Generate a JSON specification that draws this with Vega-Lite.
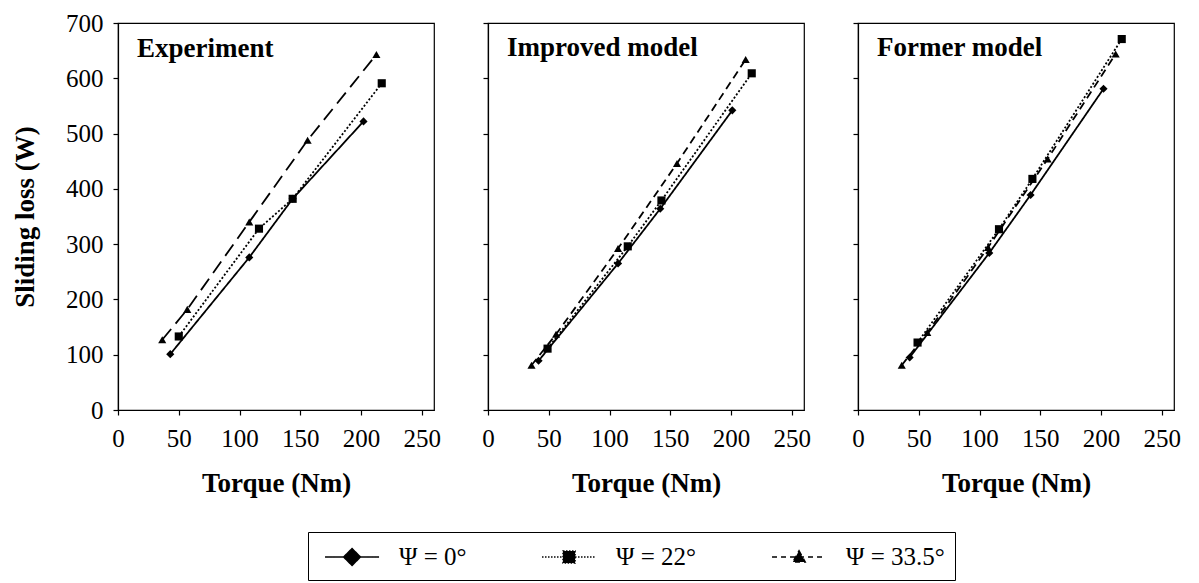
{
  "$schema": "https://vega.github.io/schema/vega-lite/v6.json",
  "padding": {"left": 10, "top": 10, "right": 5, "bottom": 0},
  "datasets": {
    "d": [
      {"panel": "Experiment", "series": "Ψ = 0°", "torque": 43, "loss": 101},
      {"panel": "Experiment", "series": "Ψ = 0°", "torque": 108, "loss": 276},
      {"panel": "Experiment", "series": "Ψ = 0°", "torque": 143.7, "loss": 382},
      {"panel": "Experiment", "series": "Ψ = 0°", "torque": 202, "loss": 522},
      {"panel": "Experiment", "series": "Ψ = 22°", "torque": 50, "loss": 133},
      {"panel": "Experiment", "series": "Ψ = 22°", "torque": 116, "loss": 328},
      {"panel": "Experiment", "series": "Ψ = 22°", "torque": 143.7, "loss": 382},
      {"panel": "Experiment", "series": "Ψ = 22°", "torque": 217, "loss": 591},
      {"panel": "Experiment", "series": "Ψ = 33.5°", "torque": 36.4, "loss": 127},
      {"panel": "Experiment", "series": "Ψ = 33.5°", "torque": 57, "loss": 182},
      {"panel": "Experiment", "series": "Ψ = 33.5°", "torque": 108, "loss": 340},
      {"panel": "Experiment", "series": "Ψ = 33.5°", "torque": 156, "loss": 488},
      {"panel": "Experiment", "series": "Ψ = 33.5°", "torque": 212.6, "loss": 643},
      {"panel": "Improved", "series": "Ψ = 0°", "torque": 41.6, "loss": 89},
      {"panel": "Improved", "series": "Ψ = 0°", "torque": 107, "loss": 265},
      {"panel": "Improved", "series": "Ψ = 0°", "torque": 141.7, "loss": 364},
      {"panel": "Improved", "series": "Ψ = 0°", "torque": 201, "loss": 542},
      {"panel": "Improved", "series": "Ψ = 22°", "torque": 49, "loss": 111},
      {"panel": "Improved", "series": "Ψ = 22°", "torque": 115, "loss": 296},
      {"panel": "Improved", "series": "Ψ = 22°", "torque": 142.7, "loss": 379},
      {"panel": "Improved", "series": "Ψ = 22°", "torque": 217, "loss": 609},
      {"panel": "Improved", "series": "Ψ = 33.5°", "torque": 35.8, "loss": 81},
      {"panel": "Improved", "series": "Ψ = 33.5°", "torque": 56, "loss": 137},
      {"panel": "Improved", "series": "Ψ = 33.5°", "torque": 107, "loss": 292},
      {"panel": "Improved", "series": "Ψ = 33.5°", "torque": 155.5, "loss": 446},
      {"panel": "Improved", "series": "Ψ = 33.5°", "torque": 212, "loss": 634},
      {"panel": "Former", "series": "Ψ = 0°", "torque": 42.5, "loss": 95},
      {"panel": "Former", "series": "Ψ = 0°", "torque": 108, "loss": 284},
      {"panel": "Former", "series": "Ψ = 0°", "torque": 142, "loss": 389},
      {"panel": "Former", "series": "Ψ = 0°", "torque": 202, "loss": 581},
      {"panel": "Former", "series": "Ψ = 22°", "torque": 49, "loss": 122},
      {"panel": "Former", "series": "Ψ = 22°", "torque": 116, "loss": 327},
      {"panel": "Former", "series": "Ψ = 22°", "torque": 143.5, "loss": 418},
      {"panel": "Former", "series": "Ψ = 22°", "torque": 217, "loss": 671},
      {"panel": "Former", "series": "Ψ = 33.5°", "torque": 36, "loss": 81},
      {"panel": "Former", "series": "Ψ = 33.5°", "torque": 57, "loss": 140},
      {"panel": "Former", "series": "Ψ = 33.5°", "torque": 107, "loss": 294},
      {"panel": "Former", "series": "Ψ = 33.5°", "torque": 156, "loss": 454},
      {"panel": "Former", "series": "Ψ = 33.5°", "torque": 212, "loss": 644}
    ]
  },
  "data": {"name": "d"},
  "spacing": 54,
  "bounds": "flush",
  "hconcat": [
    {
      "width": 316,
      "height": 387,
      "title": {"text": "Experiment", "anchor": "start", "frame": "group", "orient": "top", "offset": 0, "dy": 52, "dx": 19, "fontSize": 27, "fontWeight": "bold", "font": "Liberation Serif", "color": "black"},
      "transform": [{"filter": "datum.panel === 'Experiment'"}],
      "resolve": {"scale": {"shape": "independent", "strokeDash": "independent"}},
      "layer": [
        {
          "mark": {"type": "line", "color": "black", "strokeWidth": 1.8},
          "encoding": {
            "x": {"field": "torque", "type": "quantitative", "scale": {"domain": [0, 250]}, "axis": {"values": [0, 50, 100, 150, 200, 250], "title": "Torque (Nm)"}},
            "y": {"field": "loss", "type": "quantitative", "scale": {"domain": [0, 700]}, "axis": {"values": [0, 100, 200, 300, 400, 500, 600, 700], "title": "Sliding loss (W)"}},
            "strokeDash": {"field": "series", "type": "nominal", "scale": {"domain": ["Ψ = 0°", "Ψ = 22°", "Ψ = 33.5°"], "range": [[1, 0], [2, 2], [14, 7]]}, "legend": null}
          }
        },
        {
          "mark": {"type": "point", "filled": true, "color": "black", "opacity": 1, "size": 66},
          "encoding": {
            "x": {"field": "torque", "type": "quantitative"},
            "y": {"field": "loss", "type": "quantitative"},
            "shape": {"field": "series", "type": "nominal", "scale": {"domain": ["Ψ = 0°", "Ψ = 22°", "Ψ = 33.5°"], "range": ["diamond", "square", "triangle-up"]}, "legend": null}
          }
        },
        {
          "mark": {"type": "point", "filled": false, "fill": "black", "stroke": "black", "strokeWidth": 1.5, "opacity": 0},
          "encoding": {
            "x": {"field": "torque", "type": "quantitative"},
            "y": {"field": "loss", "type": "quantitative"},
            "shape": {
              "field": "series", "type": "nominal",
              "scale": {"domain": ["Ψ = 0°", "Ψ = 22°", "Ψ = 33.5°"], "range": ["M-0.57,0H3.29M1.36,-0.6L1.96,0L1.36,0.6L0.76,0Z", "M-0.57,0H3.29M0.93,-0.43H1.79V0.43H0.93Z", "M-0.57,0H3.29M1.36,-0.45L1.8,0.35H0.92Z"]},
              "legend": {
                "title": null, "orient": "none", "legendX": 190, "legendY": 509, "direction": "horizontal",
                "strokeColor": "black", "padding": 10, "symbolSize": 784, "labelOffset": 51, "columnPadding": 68,
                "symbolOpacity": 1, "symbolStrokeWidth": 1.5,
                "labelFont": "Liberation Serif", "labelFontSize": 25, "labelColor": "black", "labelLimit": 300
              }
            },
            "strokeDash": {
              "field": "series", "type": "nominal",
              "scale": {"domain": ["Ψ = 0°", "Ψ = 22°", "Ψ = 33.5°"], "range": [[1, 0], [1.5, 1.5], [5, 4]]},
              "legend": {
                "title": null, "orient": "none", "legendX": 190, "legendY": 509, "direction": "horizontal",
                "strokeColor": "black", "padding": 10, "symbolSize": 784, "labelOffset": 51, "columnPadding": 68,
                "symbolOpacity": 1, "symbolStrokeWidth": 1.5,
                "labelFont": "Liberation Serif", "labelFontSize": 25, "labelColor": "black", "labelLimit": 300
              }
            }
          }
        }
      ]
    },
    {
      "width": 316,
      "height": 387,
      "title": {"text": "Improved model", "anchor": "start", "frame": "group", "orient": "top", "offset": 0, "dy": 40, "dx": 19, "fontSize": 27, "fontWeight": "bold", "font": "Liberation Serif", "color": "black"},
      "transform": [{"filter": "datum.panel === 'Improved'"}],
      "layer": [
        {
          "mark": {"type": "line", "color": "black", "strokeWidth": 1.8},
          "encoding": {
            "x": {"field": "torque", "type": "quantitative", "scale": {"domain": [0, 250]}, "axis": {"values": [0, 50, 100, 150, 200, 250], "title": "Torque (Nm)"}},
            "y": {"field": "loss", "type": "quantitative", "scale": {"domain": [0, 700]}, "axis": {"values": [0, 100, 200, 300, 400, 500, 600, 700], "labels": false, "title": null}},
            "strokeDash": {"field": "series", "type": "nominal", "scale": {"domain": ["Ψ = 0°", "Ψ = 22°", "Ψ = 33.5°"], "range": [[1, 0], [2, 2], [8, 5]]}, "legend": null}
          }
        },
        {
          "mark": {"type": "point", "filled": true, "color": "black", "opacity": 1, "size": 66},
          "encoding": {
            "x": {"field": "torque", "type": "quantitative"},
            "y": {"field": "loss", "type": "quantitative"},
            "shape": {"field": "series", "type": "nominal", "scale": {"domain": ["Ψ = 0°", "Ψ = 22°", "Ψ = 33.5°"], "range": ["diamond", "square", "triangle-up"]}, "legend": null}
          }
        }
      ]
    },
    {
      "width": 316,
      "height": 387,
      "title": {"text": "Former model", "anchor": "start", "frame": "group", "orient": "top", "offset": 0, "dy": 40, "dx": 19, "fontSize": 27, "fontWeight": "bold", "font": "Liberation Serif", "color": "black"},
      "transform": [{"filter": "datum.panel === 'Former'"}],
      "layer": [
        {
          "mark": {"type": "line", "color": "black", "strokeWidth": 1.8},
          "encoding": {
            "x": {"field": "torque", "type": "quantitative", "scale": {"domain": [0, 250]}, "axis": {"values": [0, 50, 100, 150, 200, 250], "title": "Torque (Nm)"}},
            "y": {"field": "loss", "type": "quantitative", "scale": {"domain": [0, 700]}, "axis": {"values": [0, 100, 200, 300, 400, 500, 600, 700], "labels": false, "title": null}},
            "strokeDash": {"field": "series", "type": "nominal", "scale": {"domain": ["Ψ = 0°", "Ψ = 22°", "Ψ = 33.5°"], "range": [[1, 0], [2, 2], [5, 3]]}, "legend": null}
          }
        },
        {
          "mark": {"type": "point", "filled": true, "color": "black", "opacity": 1, "size": 66},
          "encoding": {
            "x": {"field": "torque", "type": "quantitative"},
            "y": {"field": "loss", "type": "quantitative"},
            "shape": {"field": "series", "type": "nominal", "scale": {"domain": ["Ψ = 0°", "Ψ = 22°", "Ψ = 33.5°"], "range": ["diamond", "square", "triangle-up"]}, "legend": null}
          }
        }
      ]
    }
  ],
  "config": {
    "font": "Liberation Serif",
    "background": "white",
    "view": {"stroke": "black", "strokeWidth": 1.2},
    "axis": {
      "domainColor": "black", "domainWidth": 1.2, "tickColor": "black", "tickWidth": 1.2, "tickSize": 5,
      "labelColor": "black", "titleColor": "black", "labelFont": "Liberation Serif", "titleFont": "Liberation Serif",
      "labelFontSize": 25, "titleFontSize": 27, "titleFontWeight": "bold", "grid": false, "labelFlush": false
    },
    "axisX": {"titlePadding": 19, "labelPadding": 11},
    "axisY": {"titlePadding": 26, "labelPadding": 10}
  }
}
